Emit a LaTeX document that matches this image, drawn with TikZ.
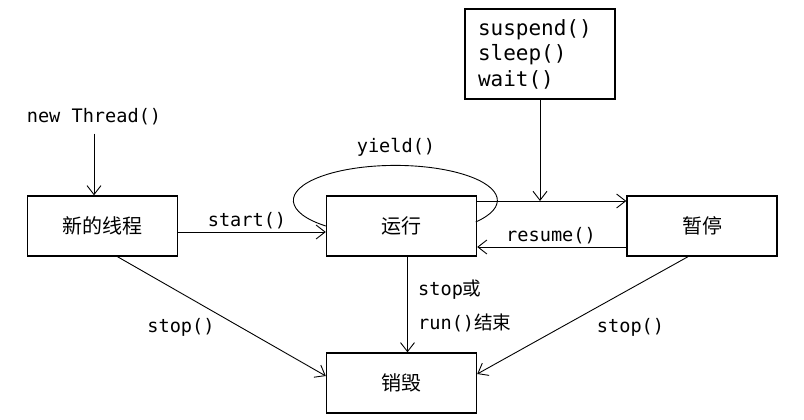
\documentclass[tikz,border=0pt]{standalone}
\usepackage{fontspec}
\setmainfont{DejaVu Sans Mono}
\newfontfamily\cjk{Noto Sans CJK SC}
\usetikzlibrary{arrows.meta}

\begin{document}
\begin{tikzpicture}[x=1pt, y=1pt,
  statebox/.style={draw, line width=1.4pt, minimum width=150pt, minimum height=60pt, inner sep=0pt, font=\cjk\fontsize{20}{24}\selectfont},
  lbl/.style={inner sep=0pt, font=\fontsize{18.6}{22}\selectfont},
  arr/.style={-{Straight Barb[length=9pt,width=14pt]}, line width=0.9pt}]
\useasboundingbox (0,0) rectangle (804,420);
% states
\node[statebox] (New) at (102.5,194) {新的线程};
\node[statebox] (Running) at (401.5,194) {运行};
\node[statebox] (Paused) at (702,194) {暂停};
\node[statebox] (Dead) at (401.5,37) {销毁};
\node[draw, line width=1.4pt, minimum width=150pt, minimum height=90pt, text width=124pt, inner sep=0pt, align=left, font=\fontsize{21}{25.5}\selectfont] (Block) at (540,366) {suspend()\\sleep()\\wait()};

% labels
\node[lbl, anchor=base] (NewLbl) at (94,297) {new Thread()};
\node[lbl, anchor=base] (StartLbl) at (247,193) {start()};
\node[lbl, anchor=base] (YieldLbl) at (396,267) {yield()};
\node[lbl, anchor=base] (ResumeLbl) at (551,178.3) {resume()};
\node[lbl, anchor=base west] (StopRunA) at (418,124) {stop{\cjk 或}};
\node[lbl, anchor=base west] (StopRunB) at (418,90) {run(){\cjk 结束}};
\node[lbl, anchor=base] (StopLeft) at (181,87) {stop()};
\node[lbl, anchor=base] (StopRight) at (630.5,87) {stop()};

% transitions
\draw[arr, shorten <=8pt] (NewLbl) -- (NewLbl |- New.north);
\draw[arr] ([yshift=-6pt]New.east) -- ([yshift=-6pt]Running.west);
\draw[arr] ([yshift=25pt]Running.east) coordinate (RunOut) -- ([yshift=25pt]Paused.west);
\draw[arr] (Block) -- (Block |- RunOut);
\draw[arr] ([yshift=-21pt]Paused.west) -- ([yshift=-21pt]Running.east);
\draw[arr] ([xshift=6pt]Running.south) -- ([xshift=6pt]Dead.north);
\draw[arr] ([xshift=15pt]New.south) -- ([yshift=7pt]Dead.west);
\draw[arr] ([xshift=-14pt]Paused.south) -- ([yshift=9pt]Dead.east);
% yield loop
\draw[line width=0.9pt] (Running.west) arc[start angle=227, end angle=-38, x radius=102pt, y radius=35pt];
\end{tikzpicture}
\end{document}
